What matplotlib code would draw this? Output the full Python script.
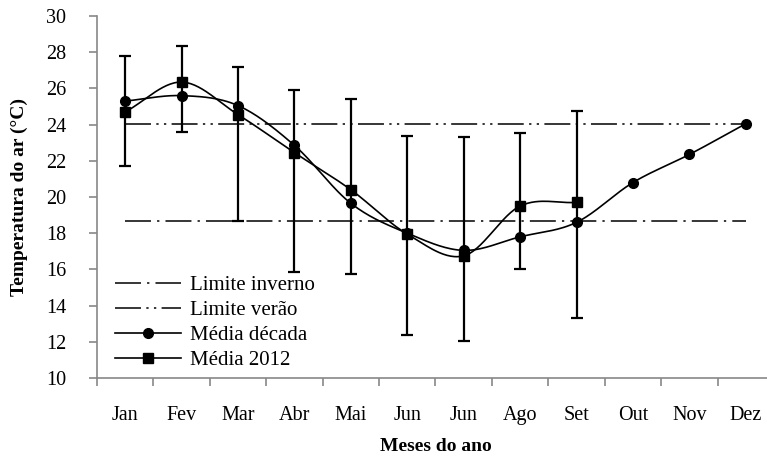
import matplotlib
matplotlib.use("Agg")
import matplotlib.pyplot as plt
import numpy as np

plt.rcParams['font.family'] = ['Liberation Serif', 'DejaVu Serif']

months = ["Jan", "Fev", "Mar", "Abr", "Mai", "Jun", "Jun", "Ago", "Set", "Out", "Nov", "Dez"]

# monthly mean air temperature, last decade
media_decada = [25.3, 25.6, 25.05, 22.85, 19.65, 18.0, 17.05, 17.8, 18.6, 20.8, 22.35, 24.05]
# monthly mean air temperature, 2012 (Jan-Set)
media_2012 = [24.7, 26.35, 24.55, 22.45, 20.4, 17.95, 16.75, 19.5, 19.7]
# min / max of 2012 for the error bars
min_2012 = [21.7, 23.6, 18.7, 15.85, 15.75, 12.35, 12.05, 16.0, 13.3]
max_2012 = [27.8, 28.35, 27.2, 25.9, 25.4, 23.35, 23.3, 23.55, 24.75]

limite_inverno = 18.65
limite_verao = 24.05


def smooth(y, n=30):
    # cubic hermite with catmull-rom slopes (same look as spreadsheet "smoothed line")
    y = np.asarray(y, float)
    x = np.arange(len(y))
    m = np.zeros_like(y)
    m[1:-1] = (y[2:] - y[:-2]) / 2
    m[0] = y[1] - y[0]
    m[-1] = y[-1] - y[-2]
    xs, ys = [], []
    for i in range(len(y) - 1):
        t = np.linspace(0, 1, n, endpoint=False)
        h00 = 2 * t**3 - 3 * t**2 + 1
        h10 = t**3 - 2 * t**2 + t
        h01 = -2 * t**3 + 3 * t**2
        h11 = t**3 - t**2
        xs.append(x[i] + t)
        ys.append(h00 * y[i] + h10 * m[i] + h01 * y[i + 1] + h11 * m[i + 1])
    xs.append([x[-1]])
    ys.append([y[-1]])
    return np.concatenate(xs), np.concatenate(ys)


fig = plt.figure(figsize=(7.67, 4.57), dpi=100)
ax = fig.add_axes([97 / 767, 79 / 457, 677 / 767, 362 / 457])

x_all = np.arange(len(months))
x_2012 = np.arange(len(media_2012))

ax.plot([0, len(months) - 1], [limite_inverno] * 2, color='black', lw=1.1,
        dashes=(17, 4, 1.5, 4), label='Limite inverno')
ax.plot([0, len(months) - 1], [limite_verao] * 2, color='black', lw=1.1,
        dashes=(17, 3.5, 1.5, 3.5, 1.5, 3.5), label='Limite verão')

yerr = [np.array(media_2012) - np.array(min_2012), np.array(max_2012) - np.array(media_2012)]
ax.errorbar(x_2012, media_2012, yerr=yerr, fmt='none', ecolor='black',
            elinewidth=1.6, capsize=4, capthick=1.6, zorder=3)

sx, sy = smooth(media_decada)
ax.plot(sx, sy, color='black', lw=1.2, zorder=4)
ax.plot(x_all, media_decada, 'o', color='black', ms=7, zorder=5)
sx, sy = smooth(media_2012)
ax.plot(sx, sy, color='black', lw=1.2, zorder=4)
ax.plot(x_2012, media_2012, 's', color='black', ms=6.5, zorder=5)

# legend proxies for the marker series
ax.plot([], [], '-o', color='black', lw=1.2, ms=7, label='Média década')
ax.plot([], [], '-s', color='black', lw=1.2, ms=6.5, label='Média 2012')

ax.set_xlim(-0.5, len(months) - 0.5)
ax.set_ylim(10, 30)
ax.set_yticks(np.arange(10, 31, 2))
ax.set_xticks(x_all)
ax.set_xticklabels(months)
ax.set_xticks(np.arange(-0.5, len(months), 1), minor=True)
ax.tick_params(axis='x', which='major', length=0, pad=20.5, labelsize=14.5)
ax.tick_params(axis='x', which='minor', length=6, width=1.2, color='#888888', direction='out')
ax.tick_params(axis='y', length=6, width=1.2, color='#888888', direction='out', labelsize=14.5, pad=16)

for side in ['top', 'right']:
    ax.spines[side].set_visible(False)
for side in ['left', 'bottom']:
    ax.spines[side].set_color('#888888')
    ax.spines[side].set_linewidth(1.2)

ax.set_xlabel("Meses do ano", fontweight='bold', fontsize=14, labelpad=9)
ax.set_ylabel("Temperatura do ar (°C)", fontweight='bold', fontsize=14, labelpad=13)

handles, labels = ax.get_legend_handles_labels()
ax.legend(handles, labels, loc='lower left', bbox_to_anchor=(0.0, -0.028), frameon=False,
          fontsize=15, handlelength=3.2, handletextpad=0.4, labelspacing=0.26,
          borderaxespad=0.45)

fig.savefig("out.png", dpi=100)
